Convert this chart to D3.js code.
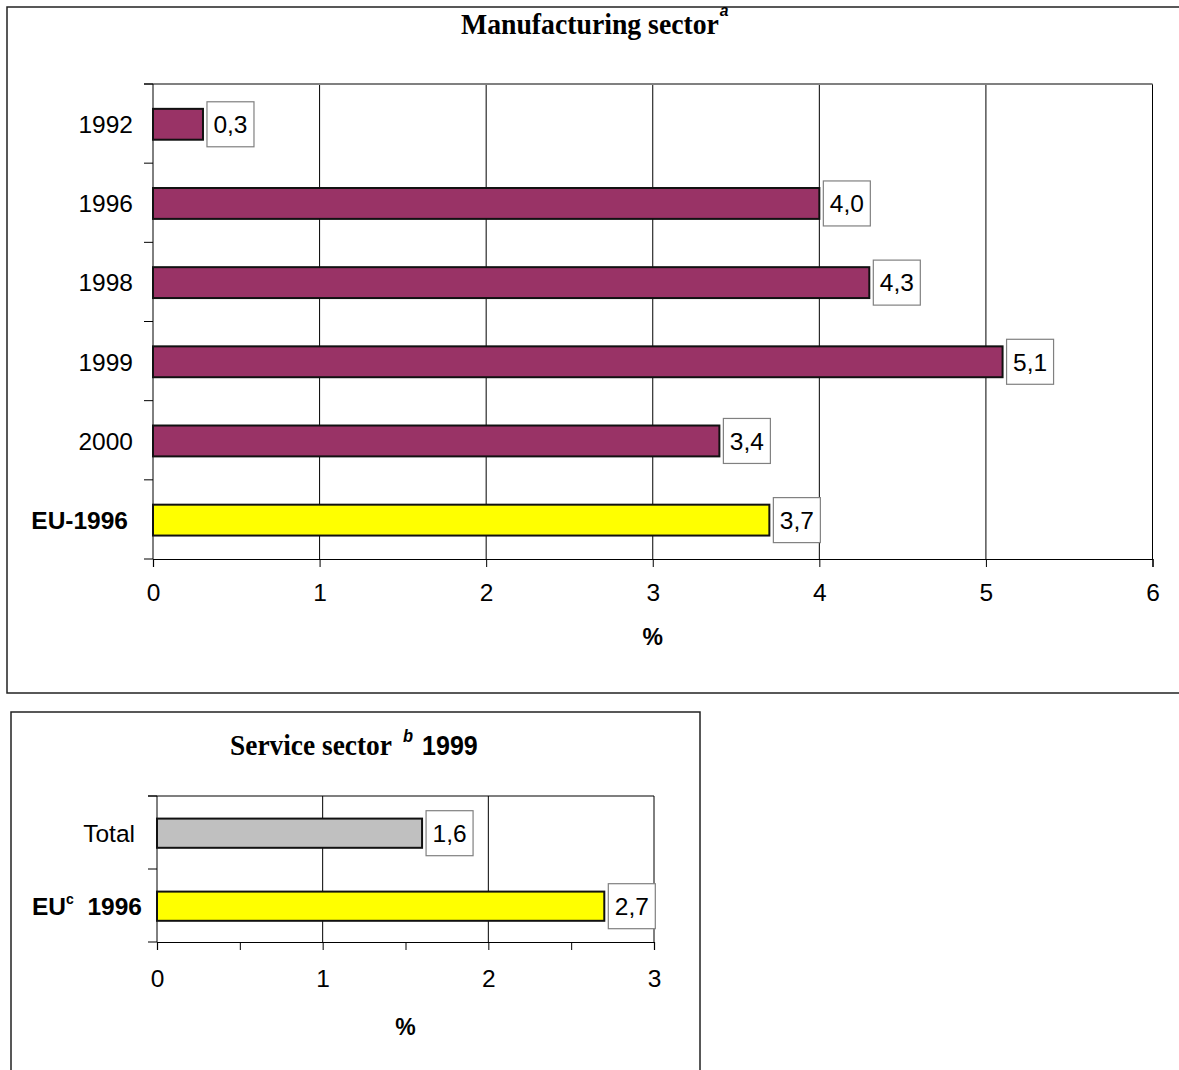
<!DOCTYPE html>
<html>
<head>
<meta charset="utf-8">
<script src="https://cdn.jsdelivr.net/npm/d3@7/dist/d3.min.js"></script>
<style>
  html, body { margin: 0; padding: 0; background: #fff; }
  svg { display: block; }
</style>
</head>
<body>
<svg id="chart" width="1179" height="1070"></svg>
<script>
// ---------- DATA ----------
const manufCategories = ["1992", "1996", "1998", "1999", "2000", "EU-1996"];
const manufValues = [0.3, 4.0, 4.3, 5.1, 3.4, 3.7];
const manufTicks = [0, 1, 2, 3, 4, 5, 6];

const serviceCategories = ["Total", "EU 1996"];
const serviceValues = [1.6, 2.7];
const serviceTicks = [0, 0.5, 1, 1.5, 2, 2.5, 3];

const manufTitle = "Manufacturing sector";
const manufTitleNote = "a";
const serviceTitle = "Service sector";
const serviceTitleNote = "b";
const serviceTitleYear = "1999";
const axisTitle = "%";

// ---------- STYLE ----------
const MAROON = "#993366", YELLOW = "#FFFF00", GREY = "#C0C0C0";
const SANS = "Liberation Sans, Arial, sans-serif";
const SERIF = "Liberation Serif, Times New Roman, serif";
const FS = 24.5;
const fmt = v => d3.format(".1f")(v).replace(".", ",");

const svg = d3.select("#chart");

// outer frames
svg.append("rect").attr("x", 7).attr("y", 7).attr("width", 1200).attr("height", 686)
  .attr("fill", "none").attr("stroke", "#222").attr("stroke-width", 1.5);
svg.append("rect").attr("x", 11).attr("y", 712).attr("width", 689).attr("height", 420)
  .attr("fill", "none").attr("stroke", "#222").attr("stroke-width", 1.5);

function drawChart(cfg) {
  const g = svg.append("g");
  const x = d3.scaleLinear().domain(cfg.domain).range(cfg.xRange);
  const y = d3.scaleBand().domain(cfg.cats).range(cfg.yRange).padding(0);
  const [top, bottom] = cfg.yRange;
  const [left, right] = cfg.xRange;

  // vertical gridlines
  g.selectAll("line.grid").data(cfg.ticks.filter(t => t > 0 && Number.isInteger(t)))
    .enter().append("line").attr("class", "grid")
    .attr("x1", d => x(d)).attr("x2", d => x(d))
    .attr("y1", top).attr("y2", bottom)
    .attr("stroke", "#000").attr("stroke-width", 1);

  // plot area top border
  g.append("line").attr("x1", left - 9).attr("x2", right).attr("y1", top).attr("y2", top)
    .attr("stroke", cfg.topBorder).attr("stroke-width", cfg.topBorderWidth);

  // left axis line + ticks at band boundaries
  g.append("line").attr("x1", left).attr("x2", left).attr("y1", top).attr("y2", bottom)
    .attr("stroke", "#000").attr("stroke-width", 1);
  const bounds = cfg.cats.map(c => y(c)).concat([bottom]);
  g.selectAll("line.ytick").data(bounds).enter().append("line")
    .attr("x1", left - 9).attr("x2", left).attr("y1", d => d).attr("y2", d => d)
    .attr("stroke", "#000").attr("stroke-width", 1);

  // x axis
  const ax = d3.axisBottom(x).tickValues(cfg.ticks).tickSize(8).tickPadding(cfg.tickPad)
    .tickFormat(d => Number.isInteger(d) ? d3.format("d")(d) : "");
  const axg = g.append("g").attr("transform", `translate(0,${bottom})`).call(ax);
  axg.select(".domain").attr("stroke", "#000").attr("stroke-width", 1.2);
  axg.selectAll(".tick line").attr("stroke", "#000");
  axg.selectAll("text").attr("font-family", SANS).attr("font-size", FS).attr("fill", "#000");

  // axis title
  g.append("text").attr("x", (left + right) / 2).attr("y", cfg.pctY)
    .attr("text-anchor", "middle").attr("font-family", SANS).attr("font-weight", "bold")
    .attr("font-size", 23).text(axisTitle);

  // bars
  const bh = y.bandwidth() * cfg.barFrac;
  const cy = c => y(c) + y.bandwidth() / 2 + 0.7;
  cfg.cats.forEach((c, i) => {
    const v = cfg.vals[i];
    g.append("rect").attr("x", x(0)).attr("y", cy(c) - bh / 2)
      .attr("width", x(v) - x(0)).attr("height", bh)
      .attr("fill", cfg.fill(c)).attr("stroke", "#111").attr("stroke-width", 2);
    // value label box
    const bx = x(v) + 4;
    g.append("rect").attr("x", bx).attr("y", cy(c) - 22.5).attr("width", 47).attr("height", 45)
      .attr("fill", "#fff").attr("stroke", "#808080").attr("stroke-width", 1.2);
    g.append("text").attr("x", bx + 23.5).attr("y", cy(c)).attr("dy", "0.36em")
      .attr("text-anchor", "middle").attr("font-family", SANS).attr("font-size", FS)
      .text(fmt(v));
    // category label
    cfg.label(g, c, left - cfg.labelGap, cy(c));
  });
}

// ---------- Manufacturing chart ----------
drawChart({
  cats: manufCategories, vals: manufValues, ticks: manufTicks,
  domain: [0, 6], xRange: [153, 1152.5], yRange: [84, 559],
  barFrac: 0.39, tickPad: 17, pctY: 645,
  topBorder: "#808080", topBorderWidth: 2, labelGap: 20,
  fill: c => c.startsWith("EU") ? YELLOW : MAROON,
  label: (g, c, lx, ly) => {
    const bold = c.startsWith("EU");
    g.append("text").attr("x", bold ? lx - 5 : lx).attr("y", ly).attr("dy", "0.36em")
      .attr("text-anchor", "end").attr("font-family", SANS).attr("font-size", FS)
      .attr("font-weight", bold ? "bold" : "normal").text(c);
  }
});

// ---------- Service chart ----------
drawChart({
  cats: serviceCategories, vals: serviceValues, ticks: serviceTicks,
  domain: [0, 3], xRange: [157, 654], yRange: [796, 942],
  barFrac: 0.4, tickPad: 20, pctY: 1035,
  topBorder: "#000", topBorderWidth: 1.2, labelGap: 22,
  fill: c => c.startsWith("EU") ? YELLOW : GREY,
  label: (g, c, lx, ly) => {
    if (c.startsWith("EU")) {
      const t = g.append("text").attr("x", lx + 7).attr("y", ly).attr("dy", "0.36em")
        .attr("text-anchor", "end").attr("font-family", SANS).attr("font-size", FS)
        .attr("font-weight", "bold");
      const parts = c.split(" ");
      t.append("tspan").text(parts[0]);
      t.append("tspan").attr("font-size", 14).attr("dy", -11).text("c");
      t.append("tspan").attr("dy", 11).text("\u00a0\u00a0" + parts[1]);
    } else {
      g.append("text").attr("x", lx).attr("y", ly).attr("dy", "0.36em")
        .attr("text-anchor", "end").attr("font-family", SANS).attr("font-size", FS).text(c);
    }
  }
});

// ---------- Titles (condensed serif with superscript note in one text) ----------
function title(x0, yb, mainText, targetW, note, noteDx, noteDy, noteSize, tail) {
  const t = svg.append("text").attr("x", 0).attr("y", 0)
    .attr("font-family", SERIF).attr("font-weight", "bold").attr("font-size", 30);
  const main = t.append("tspan").text(mainText);
  const w = main.node().getComputedTextLength();
  const sx = targetW / w;
  t.append("tspan").attr("font-family", SANS).attr("font-style", "italic")
    .attr("font-size", noteSize).attr("dx", noteDx).attr("dy", noteDy).text(note);
  if (tail) {
    t.append("tspan").attr("font-family", SANS).attr("font-size", 25 / sx)
      .attr("dx", tail.dx).attr("dy", -noteDy).text(tail.text);
  }
  t.attr("transform", `translate(${x0},${yb}) scale(${sx},1)`);
}
title(461, 34, manufTitle, 258, manufTitleNote, 1, -18, 17);
title(230, 755, serviceTitle, 162, serviceTitleNote, 12, -13, 18,
      { text: serviceTitleYear, dx: 10 });
</script>
</body>
</html>
